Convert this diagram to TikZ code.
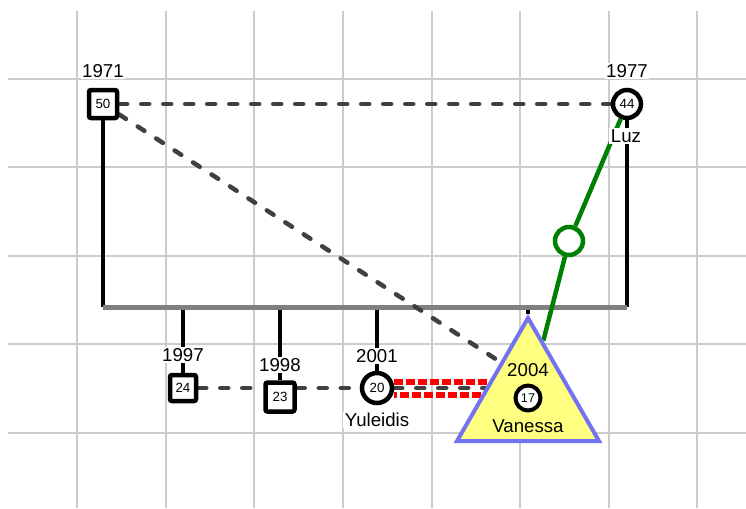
\documentclass[tikz,border=0pt]{standalone}
\usepackage{fontspec}
\setmainfont{Liberation Sans}
\usetikzlibrary{shapes.geometric,backgrounds,calc}

\newlength{\du}
\setlength{\du}{0.75pt}

\definecolor{gridcolor}{rgb}{0.800000, 0.800000, 0.800000}
\definecolor{dashcolor}{rgb}{0.250000, 0.250000, 0.250000}
\definecolor{famcolor}{rgb}{0.500000, 0.500000, 0.500000}
\definecolor{closecolor}{rgb}{0.000000, 0.500000, 0.000000}
\definecolor{conflictcolor}{rgb}{1.000000, 0.000000, 0.000000}
\definecolor{indexfill}{rgb}{1.000000, 1.000000, 0.500000}
\definecolor{indexdraw}{rgb}{0.450000, 0.450000, 0.950000}

\tikzset{
  male/.style={draw=black, fill=white, line width=4.5\du, rounded corners=2\du,
    minimum size=28\du, inner sep=0pt, font=\fontsize{10}{11}\selectfont},
  female/.style={draw=black, fill=white, circle, line width=4.5\du,
    minimum size=28\du, inner sep=0pt, font=\fontsize{10}{11}\selectfont},
  indexperson/.style={regular polygon, regular polygon sides=3, draw=indexdraw,
    fill=indexfill, line width=4\du, minimum size=164\du, inner sep=0pt},
  yearlabel/.style={fill=white, inner sep=1.5\du, font=\fontsize{14}{16}\selectfont},
  namelabel/.style={yearlabel},
  innerlabel/.style={inner sep=1\du, font=\fontsize{14}{16}\selectfont},
  gridline/.style={draw=gridcolor, line width=1.8\du},
  famline/.style={draw=black, line width=4\du},
  childline/.style={draw=famcolor, line width=5\du},
  dashrel/.style={draw=dashcolor, line width=4.5\du, line cap=round,
    dash pattern=on 8\du off 14\du},
  conflict/.style={draw=conflictcolor, line width=6\du, dash pattern=on 9\du off 3\du},
  closerel/.style={draw=closecolor, line width=4.5\du}
}

\begin{document}
\begin{tikzpicture}
\pgftransformxscale{1.000000}
\pgftransformyscale{-1.000000}
\useasboundingbox (0\du,0\du) rectangle (746\du,508\du);
% parents
\node[male] (f50) at (103\du,104\du){50};
\node[yearlabel] (y1971) at (103\du,71\du){1971};
\node[female] (m44) at (627\du,104\du){44};
\node[yearlabel] (y1977) at (627\du,71\du){1977};
\node[namelabel] (nluz) at (626\du,136\du){Luz};
% children
\node[male, minimum size=26\du] (s24) at (183\du,388\du){24};
\node[yearlabel] (y1997) at (183\du,355\du){1997};
\node[male, minimum size=29\du] (s23) at (280\du,397\du){23};
\node[yearlabel] (y1998) at (280\du,365\du){1998};
\node[female, minimum size=30\du] (s20) at (377\du,388\du){20};
\node[yearlabel] (y2001) at (377\du,356\du){2001};
\node[namelabel] (nyuleidis) at (377\du,420\du){Yuleidis};
% index person
\node[indexperson] (vanessa) at (528\du,400\du){};
\node[innerlabel] (y2004) at (528\du,370\du){2004};
\node[female, line width=4\du, minimum size=25\du, font=\fontsize{9.5}{10}\selectfont] (v17) at (528\du,398\du){17};
\node[innerlabel] (nvanessa) at (528\du,426\du){Vanessa};
% close relation mark
\node[draw=closecolor, circle, line width=4.5\du, minimum size=28\du, inner sep=0pt] (gc) at (569\du,241\du){};
\begin{pgfonlayer}{background}
% grid
\draw[gridline] (77\du,11\du) -- (77\du,508\du);
\draw[gridline] (166\du,11\du) -- (166\du,508\du);
\draw[gridline] (254\du,11\du) -- (254\du,508\du);
\draw[gridline] (343\du,11\du) -- (343\du,508\du);
\draw[gridline] (432\du,11\du) -- (432\du,508\du);
\draw[gridline] (520\du,11\du) -- (520\du,508\du);
\draw[gridline] (609\du,11\du) -- (609\du,508\du);
\draw[gridline] (697\du,11\du) -- (697\du,508\du);
\draw[gridline] (8\du,79\du) -- (746\du,79\du);
\draw[gridline] (8\du,167\du) -- (746\du,167\du);
\draw[gridline] (8\du,256\du) -- (746\du,256\du);
\draw[gridline] (8\du,344\du) -- (746\du,344\du);
\draw[gridline] (8\du,433\du) -- (746\du,433\du);
% family lines
\coordinate (sibl) at (103\du,307\du);
\coordinate (sibr) at (627\du,307\du);
\draw[famline] (f50) -- (sibl);
\draw[famline] (m44) -- (sibr);
\draw[famline] (s24 |- sibl) -- (s24);
\draw[famline] (s23 |- sibl) -- (s23);
\draw[famline] (s20 |- sibl) -- (s20);
\draw[famline] (vanessa.corner 1 |- sibl) -- (vanessa.corner 1);
\draw[childline] (sibl) -- (sibr);
% relations
\coordinate (vmid) at (528\du,380\du);
\draw[dashrel] (f50) -- (m44);
\draw[dashrel] (f50) -- (vmid);
\draw[dashrel] (s24) -- (s23.west |- s24);
\draw[dashrel] (s23.east |- s20) -- (s20);
\draw[conflict] ($(s20.east)+(0,-6.5\du)$) -- ($(s20.east -| vanessa.center)+(0,-6.5\du)$);
\draw[conflict, dash phase=6\du] ($(s20.east)+(0,6.5\du)$) -- ($(s20.east -| vanessa.center)+(0,6.5\du)$);
\draw[dashrel] (s20) -- (s20 -| vanessa.center);
\draw[closerel] (m44) -- (gc) -- (vanessa);
\end{pgfonlayer}
\end{tikzpicture}
\end{document}
